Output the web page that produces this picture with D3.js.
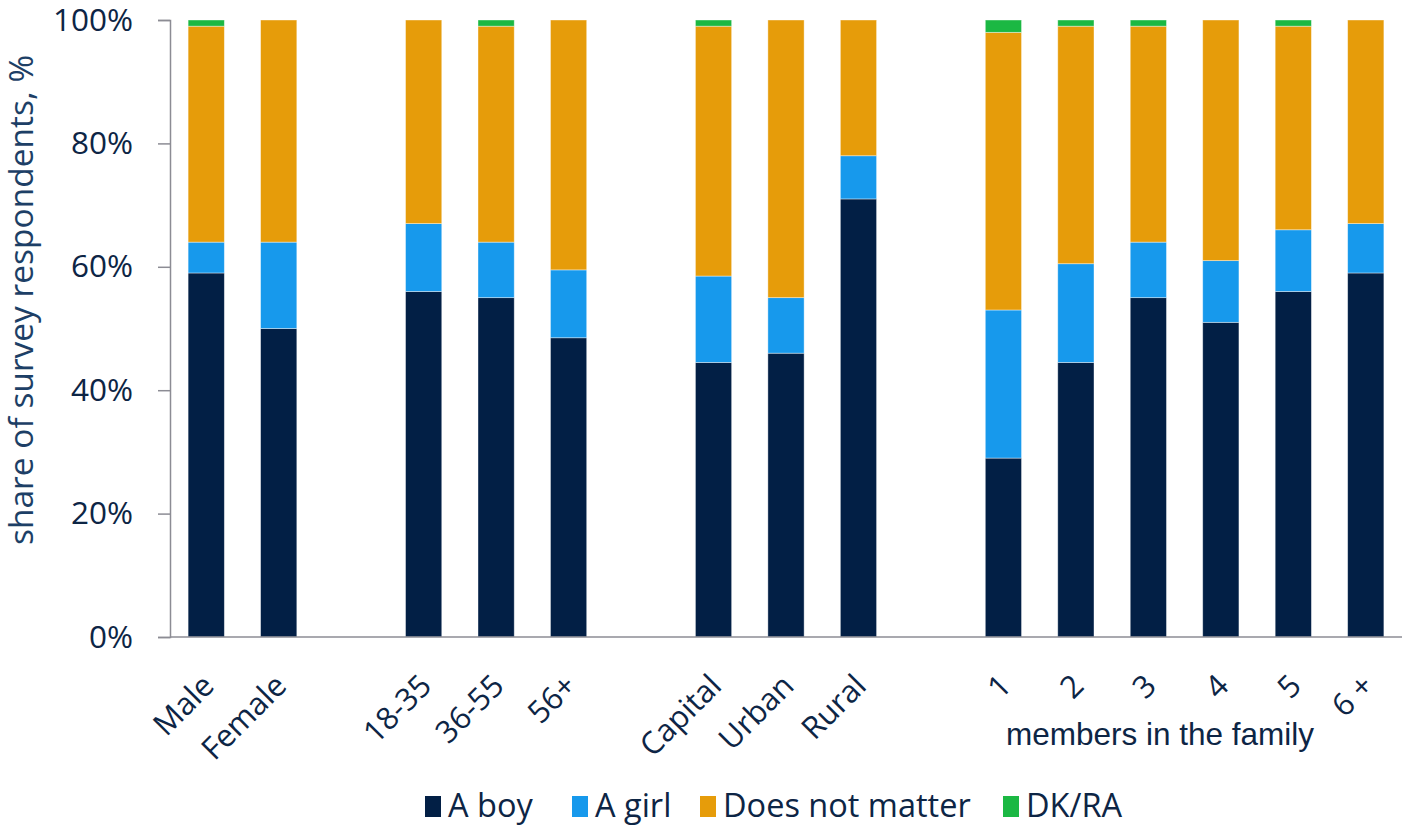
<!DOCTYPE html>
<html><head><meta charset="utf-8">
<script src="https://cdn.jsdelivr.net/npm/d3@7"></script>
<style>body{margin:0;background:#fff}svg{display:block}</style>
</head><body>
<svg id="c" width="1402" height="826"></svg>
<script>
const slots = ["Male","Female","_g1","18-35","36-55","56+","_g2","Capital","Urban","Rural","_g3","1","2","3","4","5","6 +"];
const categories = ["Male","Female","18-35","36-55","56+","Capital","Urban","Rural","1","2","3","4","5","6 +"];
const seriesNames = ["A boy","A girl","Does not matter","DK/RA"];
const boy   = [59,50,56,55,48.5,44.5,46,71,29,44.5,55,51,56,59];
const girl  = [5,14,11,9,11,14,9,7,24,16,9,10,10,8];
const dnm   = [35,36,33,35,40.5,40.5,45,22,45,38.5,35,39,33,33];
const dkra  = [1,0,0,1,0,1,0,0,2,1,1,0,1,0];
const yTicks = [0,20,40,60,80,100];
const colors = ["#021f45","#1799ec","#e69c0a","#1bb843"];

const rows = categories.map((c,i)=>({cat:c,"A boy":boy[i],"A girl":girl[i],"Does not matter":dnm[i],"DK/RA":dkra[i]}));
const stacked = d3.stack().keys(seriesNames)(rows);

const svg = d3.select("#c");
const m = {l:170, r:0, t:20, b:189};
const W = 1402, H = 826;
const x = d3.scaleBand().domain(slots).range([m.l, W-m.r]).paddingInner(0.5).paddingOuter(0.25);
const y = d3.scaleLinear().domain([0,100]).range([H-m.b, m.t]);
const font = "'Open Sans', sans-serif";
const txt = "#0d2545";

const gy = svg.append("g").attr("transform",`translate(${m.l},0)`)
  .call(d3.axisLeft(y).tickValues(yTicks).tickFormat(d=>d+"%").tickSize(12).tickPadding(25));
gy.select(".domain").attr("stroke","#8c8c94").attr("stroke-width",1.5);
gy.selectAll(".tick line").attr("stroke","#8c8c94").attr("stroke-width",1.5);
gy.selectAll("text").attr("font-family",font).attr("font-size",31.5).attr("fill",txt);

svg.append("g").selectAll("g").data(stacked).join("g")
  .attr("fill",(d,i)=>colors[i])
  .selectAll("rect").data(d=>d).join("rect")
  .attr("x",d=>x(d.data.cat)).attr("width",x.bandwidth())
  .attr("y",d=>y(d[1])).attr("height",d=>Math.max(0,y(d[0])-y(d[1])))
  .attr("stroke","#ffffff").attr("stroke-opacity",0.5).attr("stroke-width",0.8);

const gx = svg.append("g").attr("transform",`translate(0,${y(0)})`)
  .call(d3.axisBottom(x).tickValues(categories).tickSize(0).tickPadding(0));
gx.select(".domain").attr("stroke","#8c8c94").attr("stroke-width",1.5).attr("d",`M${m.l},0H${W}`);
gx.selectAll("text").attr("font-family",font).attr("font-size",31).attr("fill",txt)
  .attr("text-anchor","end").attr("y",0).attr("dy","0.35em")
  .attr("transform",`translate(2,${680-y(0)}) rotate(-45)`);

svg.append("text").attr("x",1160).attr("y",745).attr("text-anchor","middle")
  .attr("font-family","'Liberation Sans', Arial, sans-serif").attr("font-size",31.5).attr("fill",txt)
  .text("members in the family");

svg.append("text").attr("transform","translate(33,300) rotate(-90)").attr("text-anchor","middle")
  .attr("font-family",font).attr("font-size",33.5).attr("fill","#1d3f66")
  .text("share of survey respondents, %");

const legendX = [425,572,700,1003];
const lg = svg.append("g").selectAll("g").data(seriesNames).join("g")
  .attr("transform",(d,i)=>`translate(${legendX[i]},806)`);
lg.append("rect").attr("x",0).attr("y",-10).attr("width",16).attr("height",21).attr("fill",(d,i)=>colors[i]);
lg.append("text").attr("x",23).attr("y",0).attr("dy","0.35em")
  .attr("font-family",font).attr("font-size",32.5).attr("fill",txt).text(d=>d);
</script>
</body></html>
